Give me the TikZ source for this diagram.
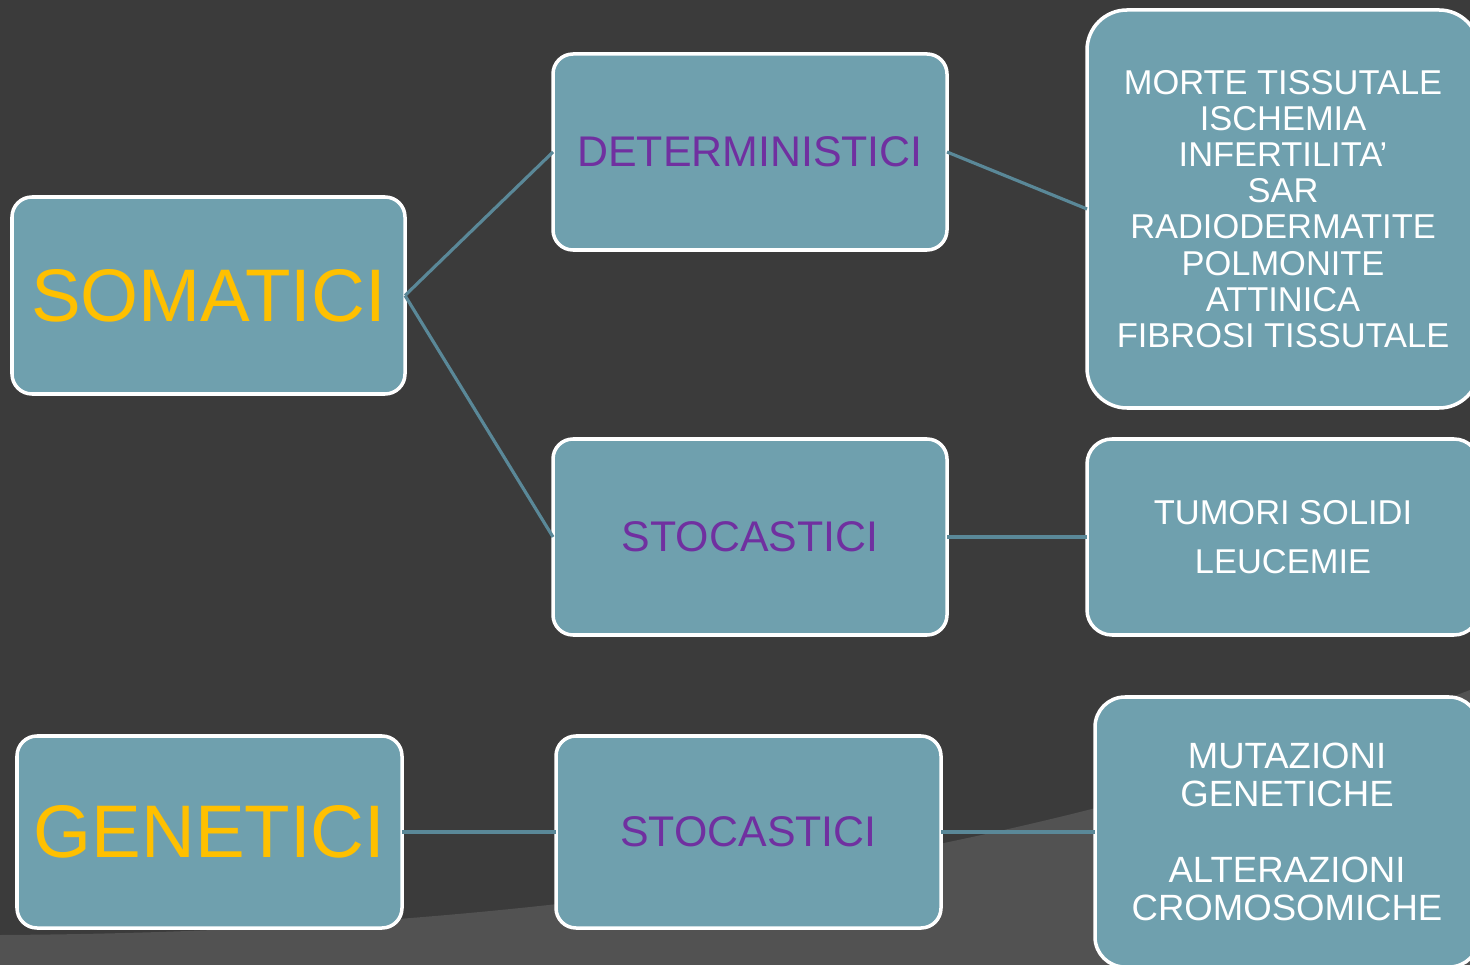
\documentclass[tikz,border=0pt]{standalone}
\usepackage{fontspec}
\setmainfont{Liberation Sans}
\definecolor{bgdark}{HTML}{3B3B3B}
\definecolor{bglight}{HTML}{525252}
\definecolor{boxfill}{HTML}{6FA0AE}
\definecolor{linkcol}{HTML}{5A8898}
\definecolor{somayel}{HTML}{FFC000}
\definecolor{detpurp}{HTML}{7030A0}

\begin{document}
\begin{tikzpicture}[
		box/.style={draw=white, line width=1pt, fill=boxfill, rounded corners=0.2cm,
			inner sep=0pt, outer sep=0pt, align=center},
		mainbox/.style={box, text=somayel, font=\fontsize{21.2}{24}\selectfont},
		typebox/.style={box, text=detpurp, font=\fontsize{12.2}{14}\selectfont},
		effbox/.style={box, text=white, rounded corners=0.4cm},
		link/.style={draw=linkcol, line width=0.9pt}
	]
		\useasboundingbox (0,0) rectangle (14.7,-9.65);
		\clip (0,0) rectangle (14.7,-9.65);

		% background
		\fill[bgdark] (0,0) rectangle (14.7,-9.65);
		\fill[bglight] (0,-9.35) .. controls (5,-9.32) and (10,-8.7) .. (14.7,-6.9)
			-- (14.7,-9.65) -- (0,-9.65) -- cycle;

		% left column
		\node[mainbox, minimum width=3.93cm, minimum height=1.97cm] (soma) at (2.085,-2.955) {SOMATICI};
		\node[mainbox, minimum width=3.85cm, minimum height=1.92cm] (gene) at (2.095,-8.32) {GENETICI};

		% middle column
		\node[typebox, minimum width=3.94cm, minimum height=1.96cm] (det) at (7.5,-1.52) {DETERMINISTICI};
		\node[typebox, minimum width=3.94cm, minimum height=1.96cm] (sto) at (7.5,-5.37) {STOCASTICI};
		\node[typebox, minimum width=3.85cm, minimum height=1.92cm] (stogen) at (7.485,-8.32) {STOCASTICI};

		% right column
		\node[effbox, font=\fontsize{9.8}{10.3}\selectfont, minimum width=3.92cm, minimum height=3.98cm]
			(morte) at (12.83,-2.09)
			{MORTE TISSUTALE\\ISCHEMIA\\INFERTILITA’\\SAR\\RADIODERMATITE\\POLMONITE\\ATTINICA\\FIBROSI TISSUTALE};
		\node[effbox, rounded corners=0.25cm, font=\fontsize{9.8}{14}\selectfont, minimum width=3.92cm, minimum height=1.96cm]
			(tumori) at (12.83,-5.37) {TUMORI SOLIDI\\LEUCEMIE};
		\node[effbox, rounded corners=0.3cm, font=\fontsize{10.4}{10.8}\selectfont, minimum width=3.84cm, minimum height=2.7cm]
			(muta) at (12.87,-8.32) {MUTAZIONI\\GENETICHE\\[10.8pt]ALTERAZIONI\\CROMOSOMICHE};

		% connectors
		\draw[link] (soma.east) -- (det.west);
		\draw[link] (soma.east) -- (sto.west);
		\draw[link] (det.east) -- (morte.west);
		\draw[link] (sto.east) -- (tumori.west);
		\draw[link] (gene.east) -- (stogen.west);
		\draw[link] (stogen.east) -- (muta.west);
	\end{tikzpicture}
\end{document}
